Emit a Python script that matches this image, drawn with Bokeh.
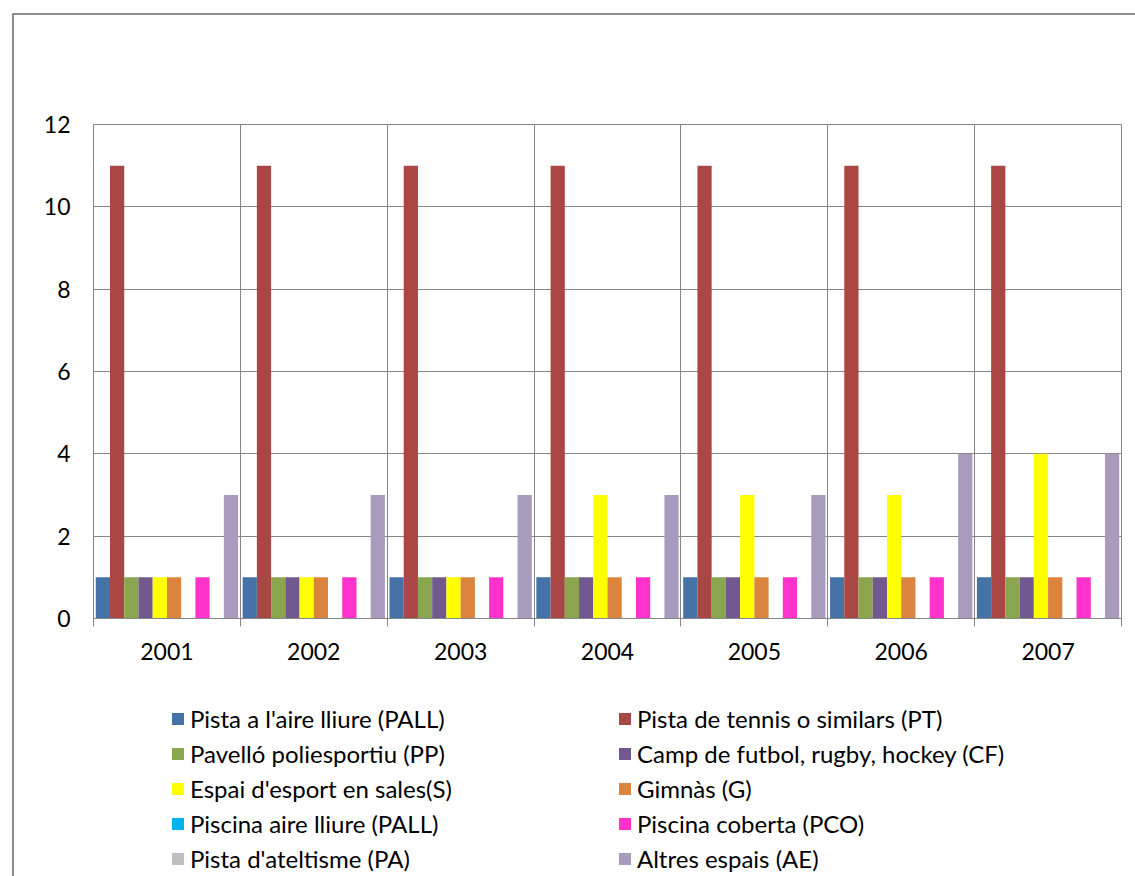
from bokeh.plotting import figure
from bokeh.layouts import column
from bokeh.models import Range1d, FixedTicker, Legend, LegendItem, ColumnDataSource
from bokeh.embed import file_html
from bokeh.resources import INLINE

years = ["2001", "2002", "2003", "2004", "2005", "2006", "2007"]
series_names = [
    "Pista a l'aire lliure (PALL)",
    "Pista de tennis o similars (PT)",
    "Pavelló poliesportiu (PP)",
    "Camp de futbol, rugby, hockey (CF)",
    "Espai d'esport en sales(S)",
    "Gimnàs (G)",
    "Piscina aire lliure (PALL)",
    "Piscina coberta (PCO)",
    "Pista d'ateltisme (PA)",
    "Altres espais (AE)",
]
colors = ["#4572A7", "#AA4643", "#89A54E", "#71588F", "#FFFF00",
          "#DB843D", "#00B0F0", "#FF33CC", "#BFBFBF", "#A99BBD"]

PALL = [1, 1, 1, 1, 1, 1, 1]
PT = [11, 11, 11, 11, 11, 11, 11]
PP = [1, 1, 1, 1, 1, 1, 1]
CF = [1, 1, 1, 1, 1, 1, 1]
S = [1, 1, 1, 3, 3, 3, 4]
G = [1, 1, 1, 1, 1, 1, 1]
PAL_PISC = [0, 0, 0, 0, 0, 0, 0]
PCO = [1, 1, 1, 1, 1, 1, 1]
PA = [0, 0, 0, 0, 0, 0, 0]
AE = [3, 3, 3, 3, 3, 4, 4]
series_values = [PALL, PT, PP, CF, S, G, PAL_PISC, PCO, PA, AE]

y_ticks = [0, 2, 4, 6, 8, 10, 12]

FONT = "Lato"
FS = "23px"
LFS = "24px"
GRID = "#868686"
BORDER = "#8c8c8c"

W = 1121
p = figure(width=W, height=663, output_backend="svg", toolbar_location=None,
           x_range=Range1d(0, len(years)), y_range=Range1d(0, 12),
           min_border_left=79, min_border_right=14, min_border_top=109,
           min_border_bottom=60)
p.outline_line_color = GRID
p.background_fill_color = "white"
p.border_fill_color = "white"

n = len(series_names)
bar_w = 0.0969
for k, (name, vals, col) in enumerate(zip(series_names, series_values, colors)):
    xs = [i + 0.5 + (k - (n - 1) / 2) * bar_w for i in range(len(years))]
    src = ColumnDataSource(dict(x=xs, top=vals))
    p.vbar(x="x", top="top", bottom=0, width=bar_w, source=src,
           fill_color=col, line_color=None)

centers = [i + 0.5 for i in range(len(years))]
bounds = [i for i in range(len(years) + 1)]
xticker = FixedTicker(ticks=centers, minor_ticks=bounds)
p.xaxis.ticker = xticker
p.xgrid.ticker = xticker
p.xaxis.major_label_overrides = {c: y for c, y in zip(centers, years)}
p.xaxis.major_tick_out = 0
p.xaxis.major_tick_in = 0
p.xaxis.minor_tick_out = 8
p.xaxis.minor_tick_in = 0
p.xaxis.minor_tick_line_color = GRID
p.xaxis.axis_line_color = GRID
p.xaxis.major_label_standoff = 16
p.xgrid.grid_line_color = None
p.xgrid.minor_grid_line_color = GRID

yticker = FixedTicker(ticks=y_ticks, minor_ticks=[])
p.yaxis.ticker = yticker
p.ygrid.ticker = yticker
p.yaxis.major_tick_out = 0
p.yaxis.major_tick_in = 0
p.yaxis.minor_tick_line_color = None
p.yaxis.axis_line_color = GRID
p.yaxis.major_label_standoff = 23
p.ygrid.grid_line_color = GRID

for ax in (p.xaxis, p.yaxis):
    ax.major_label_text_font = FONT
    ax.major_label_text_font_size = FS
    ax.major_label_text_color = "black"

# legend panel (its frame is aligned with the chart's frame by the column layout)
LH = 198
lf = figure(width=W, height=LH, output_backend="svg", toolbar_location=None,
            x_range=Range1d(0, 1), y_range=Range1d(0, 1),
            x_axis_location=None, y_axis_location=None, min_border=0)
lf.outline_line_color = None
lf.xgrid.grid_line_color = None
lf.ygrid.grid_line_color = None
lf.background_fill_color = "white"
lf.border_fill_color = "white"

nan = float("nan")
leg_renderers = []
for name, col in zip(series_names, colors):
    src = ColumnDataSource(dict(left=[nan], right=[nan], top=[nan], bottom=[nan]))
    r = lf.quad(left="left", right="right", top="top", bottom="bottom", source=src,
                fill_color=col, line_color=None)
    leg_renderers.append(r)

def make_legend(idx, loc):
    items = [LegendItem(label=series_names[i], renderers=[leg_renderers[i]]) for i in idx]
    return Legend(items=items, location=loc, orientation="vertical",
                  glyph_width=15, glyph_height=15, label_height=28,
                  label_standoff=5, spacing=6, padding=0, margin=0,
                  border_line_color=None, background_fill_alpha=0,
                  label_text_font=FONT, label_text_font_size=LFS,
                  label_text_color="black")

lf.add_layout(make_legend([0, 2, 4, 6, 8], (77, 3)))
lf.add_layout(make_legend([1, 3, 5, 7, 9], (524, 3)))

layout = column(p, lf, spacing=0)
layout.styles = {"margin-left": "12px", "margin-top": "13px",
                 "border-left": "2px solid " + BORDER,
                 "border-top": "2px solid " + BORDER}

open("out.html", "w").write(file_html(layout, INLINE))
